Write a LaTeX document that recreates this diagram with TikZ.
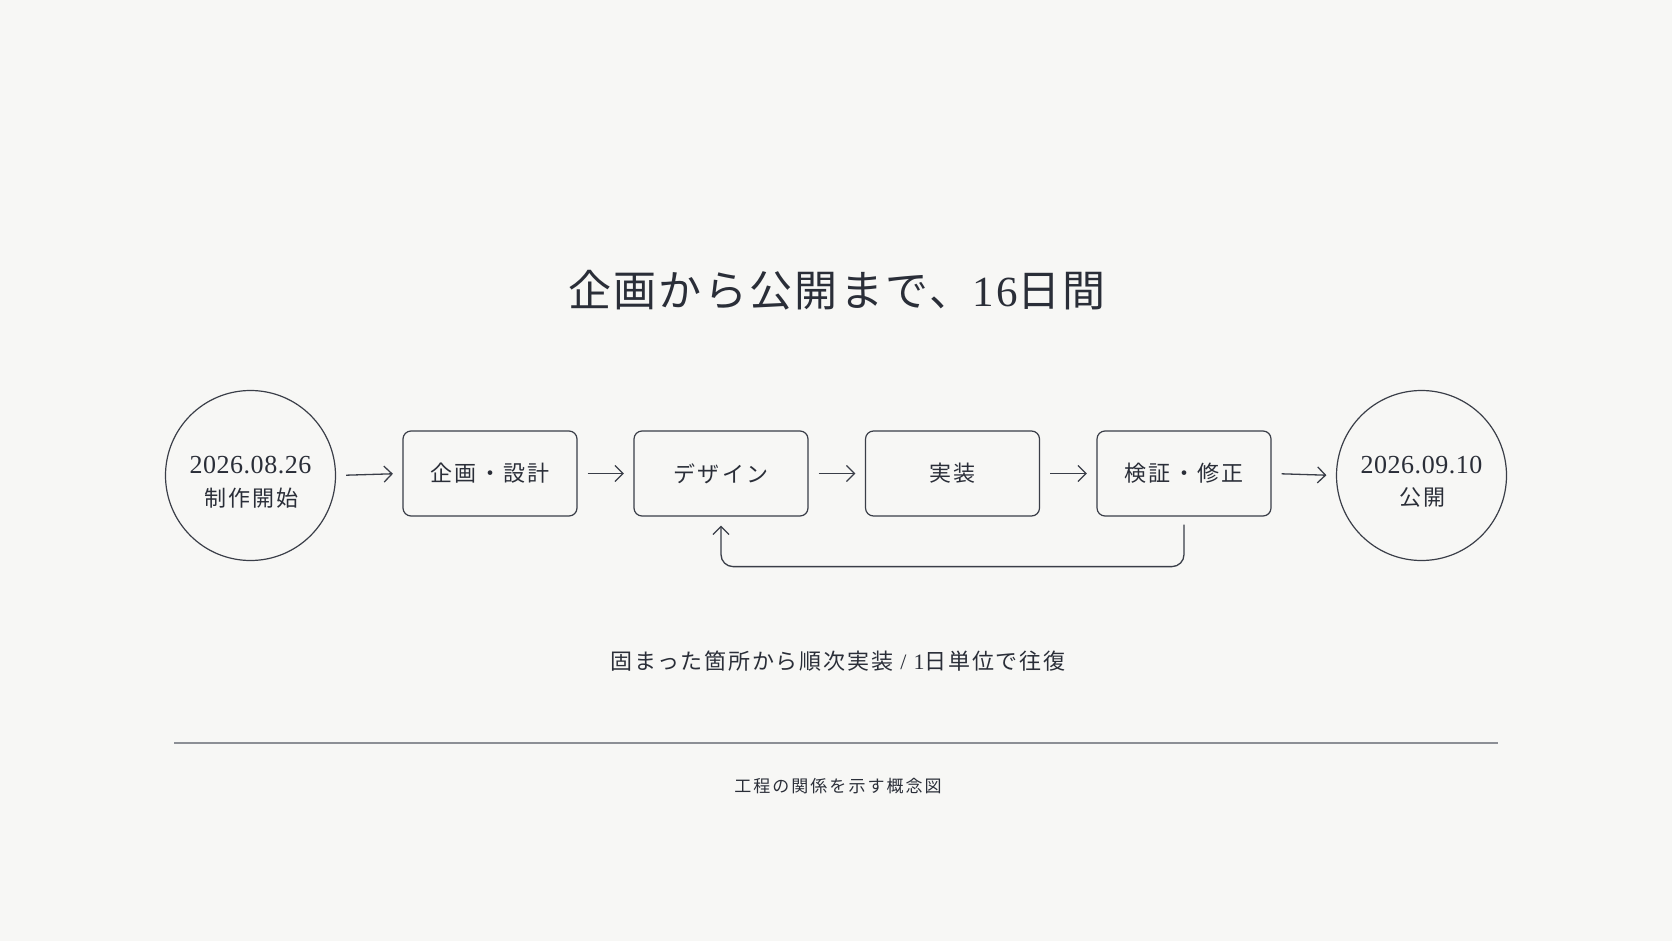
\documentclass[tikz,border=0pt]{standalone}
\usepackage{fontspec}
\usetikzlibrary{arrows.meta}
\newfontfamily\jpA[LetterSpace=5.5]{Noto Sans CJK JP}
\newfontfamily\jpB[LetterSpace=11]{Noto Sans CJK JP}
\newfontfamily\jpC[LetterSpace=8]{Noto Sans CJK JP}
\newfontfamily\jpD[LetterSpace=8]{Noto Sans CJK JP}
\newfontfamily\jpE[LetterSpace=12]{Noto Sans CJK JP}
\newfontfamily\srA[LetterSpace=5.5]{Liberation Serif}
\newfontfamily\srB[LetterSpace=2]{Liberation Serif}
\newfontfamily\srD[LetterSpace=8]{Liberation Serif}
\definecolor{bg}{HTML}{F7F7F5}
\definecolor{ink}{HTML}{2A2E38}
\definecolor{stroke}{HTML}{3A3E48}
\definecolor{rule}{HTML}{8C8F95}
\tikzset{
  stage/.style={draw=stroke, line width=1.2pt, rounded corners=8pt, minimum width=174pt, minimum height=85pt, inner sep=0pt, text=ink, font=\fontsize{22}{26}\selectfont\jpB},
  milestone/.style={draw=stroke, line width=1.2pt, circle, minimum size=170pt, inner sep=0pt},
  flow/.style={draw=stroke, line width=1.3pt, -{Straight Barb[length=8pt,width=16pt,line width=1.3pt]}, shorten <=10pt, shorten >=9.5pt},
  loopback/.style={draw=stroke, line width=1.3pt, rounded corners=12pt, -{Straight Barb[length=8pt,width=16pt,line width=1.3pt]}, shorten <=8pt, shorten >=9pt},
  lbl/.style={inner sep=0pt, text=ink}
}
\begin{document}
\begin{tikzpicture}[x=1pt,y=-1pt]
\fill[bg] (0,0) rectangle (1672,941);
\useasboundingbox (0,0) rectangle (1672,941);

\node[lbl, font=\fontsize{43}{48}\selectfont] (title) at (837,290) {{\jpA 企画から公開まで、}{\srA 16}{\jpA 日間}};

\node[milestone] (start) at (250.5,475.5) {};
\node[lbl, font=\fontsize{26}{30}\selectfont\srB] (startdate) at (250.5,465) {2026.08.26};
\node[lbl, font=\fontsize{22}{26}\selectfont\jpC] (startlbl) at (251.5,498) {制作開始};

\node[stage] (s1) at (490,473.5) {企画・設計};
\node[stage] (s2) at (721,473.5) {デザイン};
\node[stage] (s3) at (952.5,473.5) {実装};
\node[stage] (s4) at (1184,473.5) {検証・修正};

\node[milestone] (end) at (1421.5,475.5) {};
\node[lbl, font=\fontsize{26}{30}\selectfont\srB] (enddate) at (1421.5,465) {2026.09.10};
\node[lbl, font=\fontsize{22}{26}\selectfont\jpC] (endlbl) at (1422.5,498) {公開};

\draw[flow] (start.east) -- (s1.west);
\draw[flow] (s1.east) -- (s2.west);
\draw[flow] (s2.east) -- (s3.west);
\draw[flow] (s3.east) -- (s4.west);
\draw[flow] (s4.east) -- (end.west);

\draw[loopback] (s4.south) -- ++(0,50) -| (s2.south);

\node[lbl, font=\fontsize{22}{26}\selectfont] (note) at (838,661) {{\jpD 固まった箇所から順次実装}{\srD\ /\ 1}{\jpD 日単位で往復}};

\draw[rule, line width=1.2pt] (174,743) coordinate (ruleL) -- (1498,743) coordinate (ruleR);

\node[lbl, font=\fontsize{17}{20}\selectfont\jpE] (caption) at (838,786) {工程の関係を示す概念図};
\end{tikzpicture}
\end{document}
